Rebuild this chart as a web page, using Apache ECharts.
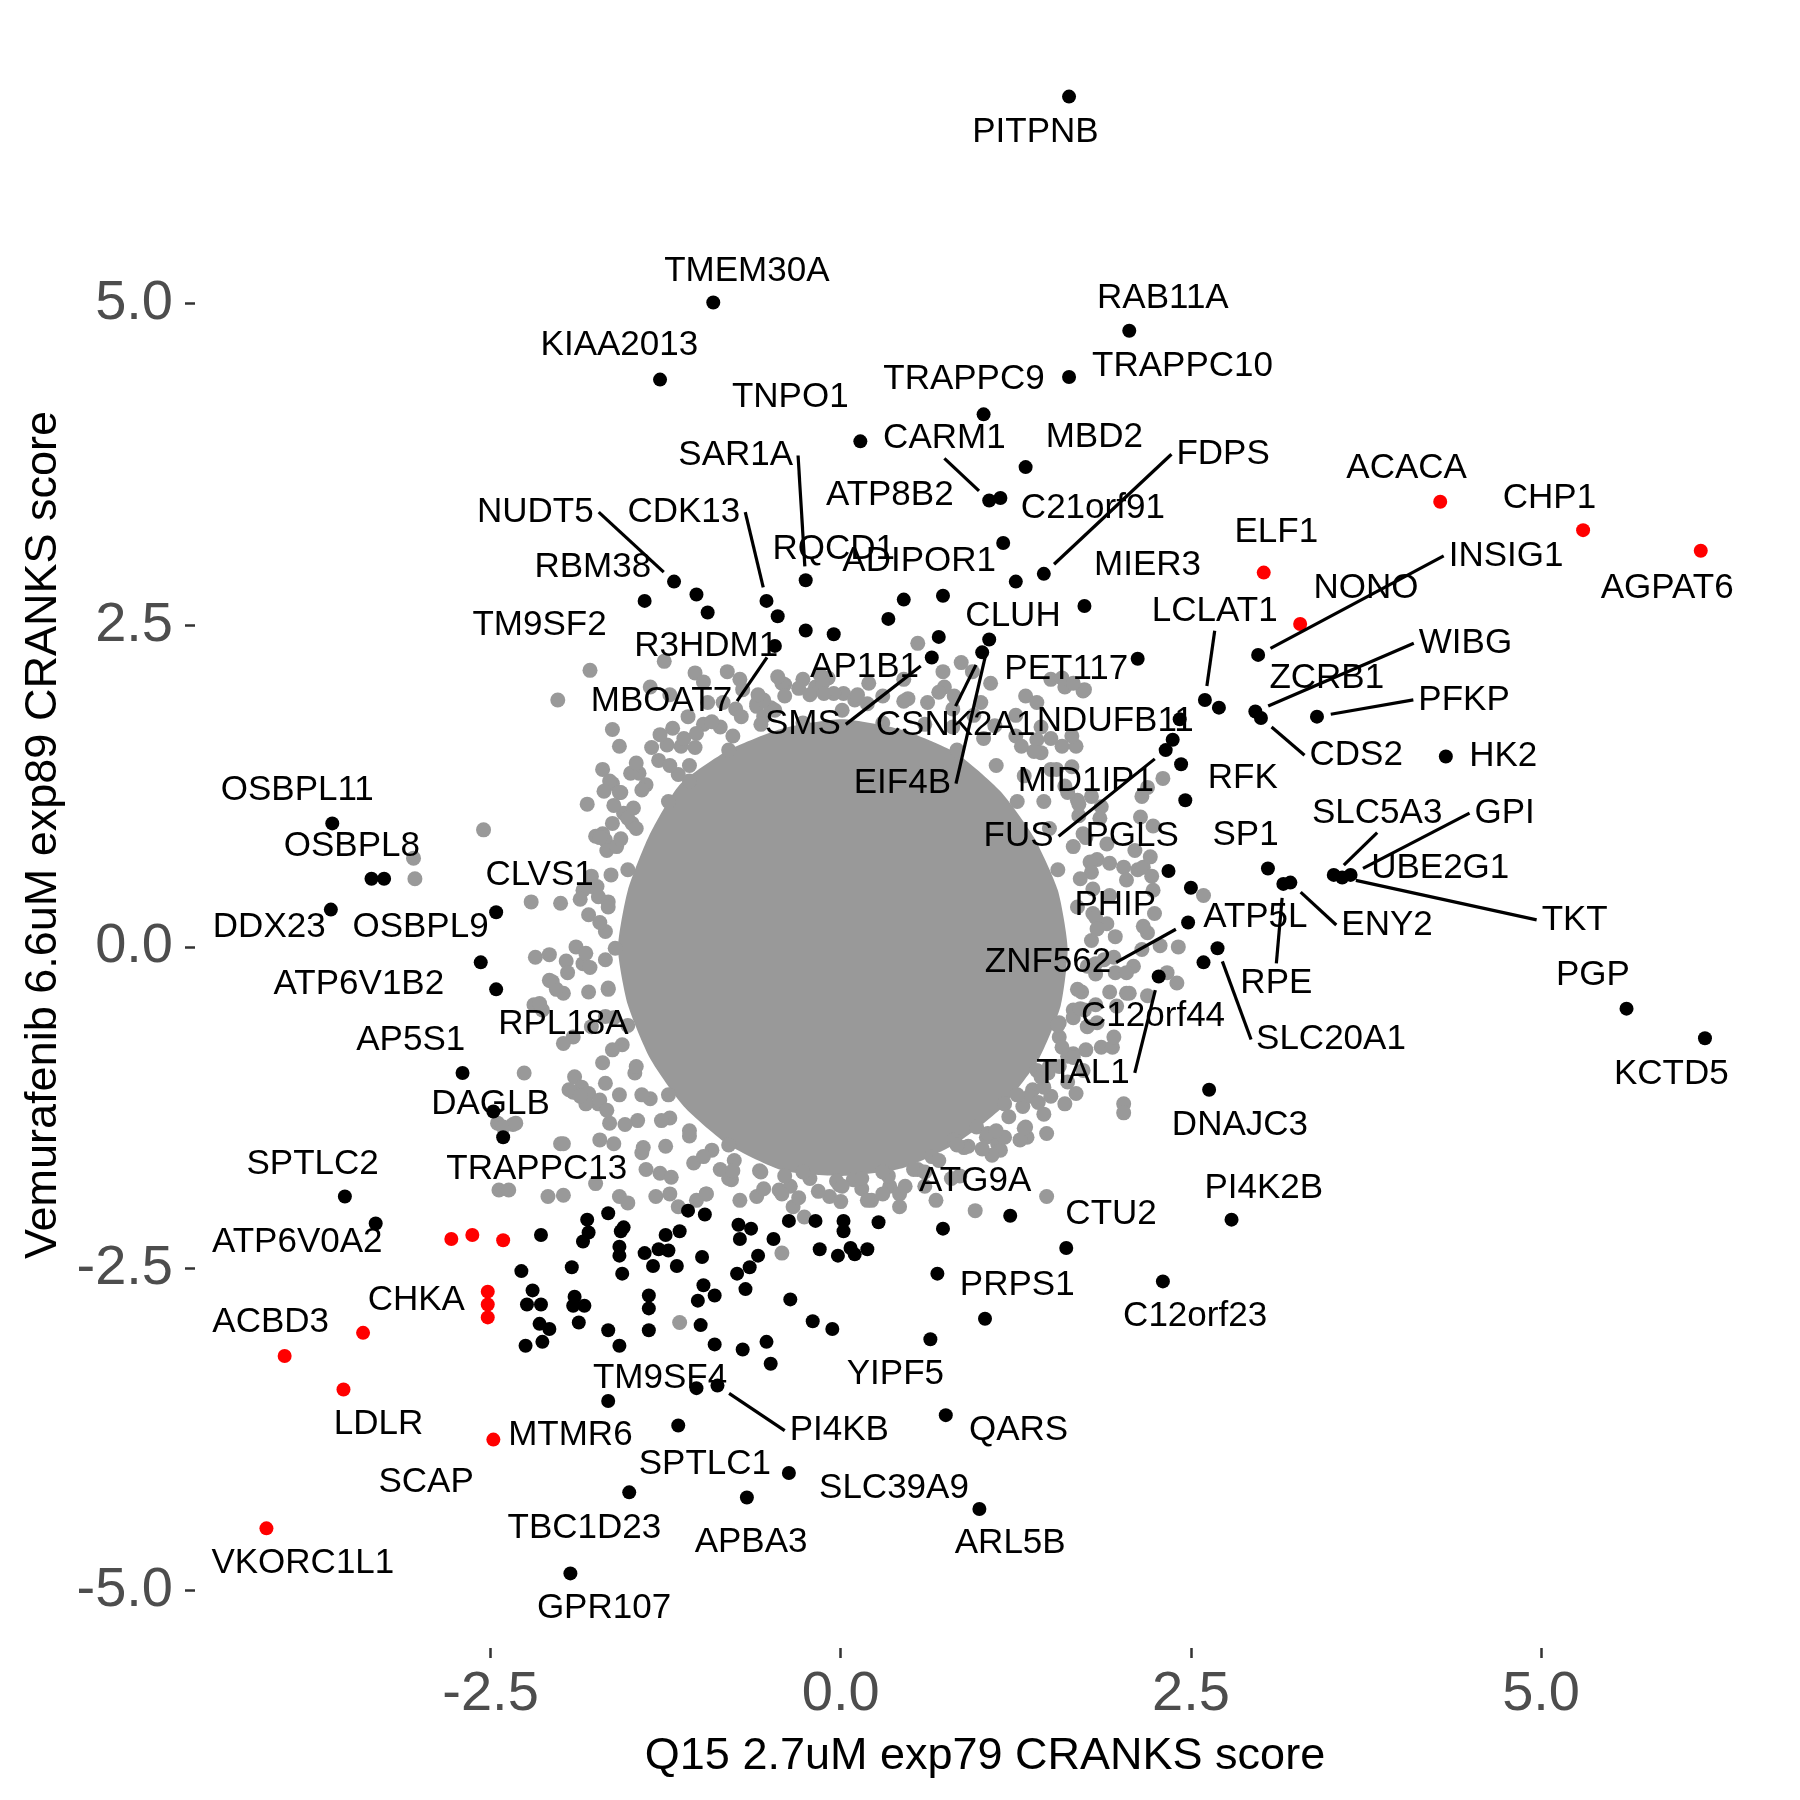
<!DOCTYPE html>
<html>
<head>
<meta charset="utf-8">
<script src="https://cdn.jsdelivr.net/npm/echarts@6/dist/echarts.min.js"></script>
<style>
html,body{margin:0;padding:0;background:#fff;}
#chart{width:1800px;height:1800px;}
</style>
</head>
<body>
<div id="chart"></div>
<script>
// ---------------- DATA ----------------
const xTitle = 'Q15 2.7uM exp79 CRANKS score';
const yTitle = 'Vemurafenib 6.6uM exp89 CRANKS score';
const xTicks = [-2.5, 0, 2.5, 5];
const yTicks = [-5, -2.5, 0, 2.5, 5];

// Outline of the part of the grey cloud where the points fully overlap
const coreOutline = [
  [1.62,-0.01],[1.55,0.44],[1.38,0.85],[1.14,1.21],[0.82,1.51],[0.43,1.69],[0.01,1.77],[-0.41,1.70],
  [-0.80,1.53],[-1.15,1.26],[-1.37,0.86],[-1.52,0.44],[-1.59,-0.01],[-1.52,-0.45],[-1.36,-0.87],[-1.12,-1.24],
  [-0.80,-1.54],[-0.41,-1.74],[0.01,-1.78],[0.44,-1.72],[0.82,-1.53],[1.15,-1.25],[1.41,-0.88],[1.57,-0.46]
];

// Individual grey points around the cloud
const greyPoints = [
  [-1.79,2.15],[-2.02,1.92],[-1.63,1.69],[-1.24,1.57],[-1.14,1.56],[-1.04,2.13],[-0.98,2.06],[-0.81,2.14],
  [-0.72,2.08],[-1.26,2.22],[-0.60,1.87],[-0.55,1.79],[-0.40,2.04],[-0.86,1.71],[-0.77,1.64],[-0.98,1.73],
  [-1.03,1.66],[-1.44,1.35],[-1.39,1.26],[-1.63,1.27],[-1.57,1.20],[-1.16,1.34],[-1.08,1.29],[-2.55,0.91],
  [-1.70,0.88],[-1.68,0.83],[-2.21,0.35],[-2.00,0.34],[-1.78,0.47],[-1.73,0.39],[-1.55,1.04],[-1.49,0.96],
  [-0.27,2.08],[-0.18,2.02],[-0.09,2.09],[0.02,1.97],[0.10,1.92],[0.55,2.36],[0.86,2.21],[0.94,2.14],
  [1.07,2.05],[0.74,2.02],[0.81,1.95],[1.32,1.95],[1.40,1.90],[1.50,2.08],[1.60,2.02],[1.74,2.00],
  [1.43,1.71],[1.58,1.56],[1.68,1.56],[1.43,1.51],[1.79,1.17],[1.86,1.09],[2.15,1.17],[1.60,1.25],
  [1.69,1.14],[1.73,0.88],[1.83,0.68],[1.92,0.65],[2.02,0.62],[2.12,0.60],[2.24,0.26],[2.19,0.11],
  [1.96,0.08],[2.15,-0.02],[-2.18,-0.08],[-2.08,-0.06],[-1.96,-0.11],[-1.95,-0.20],[-2.06,-0.27],[-1.98,-0.36],
  [-2.19,-0.45],[-2.13,-0.49],[-2.26,-0.98],[-1.90,-1.01],[-1.85,-1.09],[-1.91,-1.13],[-1.80,-1.14],[-1.73,-1.22],
  [-1.82,-1.22],[-1.68,-1.06],[-2.45,-1.37],[-2.34,-1.38],[-2.00,-1.53],[-1.65,-1.37],[-1.72,-1.50],[-1.62,-1.53],
  [-2.44,-1.89],[-2.37,-1.89],[-2.09,-1.94],[-1.98,-1.93],[-1.75,-1.84],[-1.58,-1.94],[-1.52,-1.99],[-1.42,-1.60],
  [-1.39,-1.73],[-1.29,-1.76],[-1.32,-1.94],[-1.22,-1.92],[-1.16,-2.02],[-1.03,-1.97],[-0.96,-1.92],[-0.86,-1.73],
  [-0.78,-1.81],[-0.72,-1.97],[-0.60,-1.94],[-0.44,-1.89],[-0.36,-1.86],[-0.34,-2.02],[-0.26,-2.10],[-0.08,-1.94],
  [-0.01,-1.85],[0.09,-1.81],[0.15,-1.88],[0.22,-1.97],[0.35,-1.86],[0.42,-1.92],[0.42,-2.02],[0.55,-1.73],
  [0.65,-1.63],[0.68,-1.97],[0.81,-1.50],[0.91,-1.55],[0.97,-1.40],[1.04,-1.48],[0.96,-2.05],[1.12,-1.53],
  [1.14,-1.58],[1.32,-1.40],[1.33,-1.48],[1.47,-1.45],[1.47,-1.94],[1.17,-1.22],[1.30,-1.24],[1.37,-1.11],
  [1.50,-1.16],[1.60,-1.22],[1.68,-1.14],[2.02,-1.22],[2.02,-1.29],[1.40,-0.96],[1.43,-1.01],[1.56,-0.59],
  [1.56,-0.70],[1.66,-0.49],[1.76,-0.62],[1.86,-0.78],[1.94,-0.78],[1.92,-0.35],[2.04,-0.36],[1.96,-0.20],
  [2.09,-0.15],[-3.05,0.69],[-3.04,0.53],[-1.15,-2.92],[-0.42,-2.38],[1.58,2.09],[1.73,1.99],[2.14,1.01],
  [2.23,0.94],[2.10,0.75],[2.16,0.62],[2.04,0.52],[2.23,0.44],[2.16,0.16],[2.41,0.00],[2.33,-0.20],
  [2.40,-0.28],[1.95,-0.08],[2.04,-0.20],[2.06,-0.36],[1.97,-0.46],[1.83,-0.59],[1.95,-0.70],[1.66,-0.83],
  [1.56,-0.93],[1.73,-0.96],[2.19,1.24],[2.30,1.31],[2.21,0.70],[2.22,0.55],[2.59,0.40],[2.28,0.01],
  [2.19,-0.38],[-1.89,0.00],[-1.84,-0.13],[-2.15,-0.44],[-2.03,-0.33],[-2.08,-0.26],[-1.91,-0.70],[-1.98,-0.75],
  [-1.94,-1.11],[-1.86,-1.16],[-1.98,-1.53],[-2.41,-1.40],[-2.32,-1.37],[-1.72,-1.19],[-1.67,-1.27],[-1.70,1.38],
  [-1.65,1.29],[-1.58,1.20],[-1.63,0.96],[-1.75,0.86],[-1.67,0.75],[-1.84,0.44],[-1.86,0.37],[0.73,2.14],
  [1.66,2.05],[-0.42,2.05],[-0.30,2.01],[-0.60,1.89],[-0.50,1.86],[1.65,1.64],[1.40,1.61],[-1.36,2.02],
  [-1.22,1.96],[-0.13,2.05],
  [-1.30,1.45],[-1.12,1.62],[-0.92,1.75],[-0.75,1.85],[-0.55,1.92],[-0.40,1.95],[-0.22,1.96],[-0.05,1.97],
  [0.12,1.96],[0.30,1.95],[0.48,1.93],[0.62,1.90],[0.80,1.85],[0.95,1.80],[1.10,1.72],[1.25,1.64],
  [1.38,1.52],[1.50,1.38],[1.62,1.20],[1.70,1.02],[1.75,0.85],[1.78,0.66],[1.80,0.45],[1.80,0.26],
  [1.79,0.05],[1.76,-0.15],[1.72,-0.35],[1.66,-0.55],[1.58,-0.78],[1.48,-0.98],[1.35,-1.16],[1.20,-1.32],
  [1.05,-1.45],[0.88,-1.56],[0.70,-1.66],[0.52,-1.73],[0.34,-1.78],[0.15,-1.80],[-0.03,-1.82],[-0.22,-1.80],
  [-0.40,-1.78],[-0.58,-1.74],[-0.76,-1.66],[-0.92,-1.58],[-1.08,-1.47],[-1.22,-1.33],[-1.36,-1.18],[-1.47,-0.98],
  [-1.56,-0.76],[-1.62,-0.55],[-1.66,-0.32],[-1.68,-0.10],[-1.68,0.12],[-1.66,0.35],[-1.64,0.56],[-1.60,0.78],
  [-1.52,1.00],[-1.42,1.22],
  [-1.20,1.70],[-0.95,1.90],[-0.70,2.00],[-0.45,2.10],[-0.15,2.12],[0.20,2.05],[0.45,2.08],[0.70,1.98],
  [1.00,1.90],[1.25,1.80],[1.50,1.62],[1.65,1.40],[1.85,1.00],[1.90,0.80],[1.92,0.40],[1.90,0.18],
  [1.88,-0.10],[1.82,-0.45],[1.75,-0.80],[1.62,-1.05],[1.45,-1.30],[1.28,-1.50],[1.08,-1.62],[0.85,-1.78],
  [0.60,-1.86],[0.30,-1.92],[0.00,-1.98],[-0.30,-1.95],[-0.55,-1.88],[-0.80,-1.80],[-1.05,-1.68],[-1.25,-1.55],
  [-1.45,-1.35],[-1.58,-1.15],[-1.70,-0.90],[-1.78,-0.62],[-1.80,-0.35],[-1.82,-0.05],[-1.80,0.25],[-1.78,0.55],
  [-1.72,0.85],[-1.62,1.10],[-1.50,1.35],[-1.35,1.55],
  [-1.58,1.56],[-1.46,1.43],[-1.69,1.21],[-1.81,1.11],[-1.29,1.65],[-1.09,1.79],[-0.84,1.90],[-0.59,1.96],
  [-1.54,-1.38],[-1.41,-1.56],[-1.21,-1.79],[-0.96,-1.92],[1.79,0.58],[1.82,0.23],[1.82,-0.13],[1.74,-0.49],
  [1.62,-0.85],[1.41,-1.21],[1.17,-1.48],[1.70,1.11],[1.54,1.38],[1.29,1.56],
  [1.69,0.31],[1.55,0.60],[1.49,0.92],[1.26,1.13],[1.11,1.41],[0.83,1.53],[0.60,1.73],
  [0.30,1.74],[0.01,1.84],[-0.27,1.74],[-0.57,1.73],[-0.80,1.53],[-1.08,1.41],[-1.23,1.13],[-1.46,0.92],
  [-1.52,0.60],[-1.66,0.31],[-1.61,-0.01],[-1.66,-0.33],[-1.52,-0.61],[-1.46,-0.93],[-1.23,-1.15],[-1.08,-1.43],
  [-0.80,-1.54],[-0.57,-1.75],[-0.27,-1.75],[0.01,-1.86],[0.30,-1.75],[0.60,-1.75],[0.83,-1.54],[1.11,-1.43],
  [1.26,-1.15],[1.49,-0.93],[1.55,-0.61],[1.69,-0.33],
  [1.83,0.14],[1.71,0.53],[1.66,0.78],[1.45,1.13],[1.31,1.33],[1.02,1.62],[0.80,1.71],[0.45,1.91],
  [0.19,1.89],[-0.12,1.97],[-0.47,1.84],[-0.71,1.79],[-1.04,1.55],[-1.22,1.41],[-1.48,1.08],[-1.57,0.84],
  [-1.74,0.47],[-1.72,0.19],[-1.79,-0.16],[-1.68,-0.54],[-1.63,-0.80],[-1.42,-1.15],[-1.28,-1.35],[-0.98,-1.63],
  [-0.77,-1.74],[-0.42,-1.92],[-0.16,-1.90],[0.19,-1.97],[0.46,-1.86],[0.79,-1.80],[1.01,-1.57],[1.31,-1.41],
  [1.45,-1.09],[1.66,-0.86],[1.71,-0.48],[1.82,-0.21]
];

// Black (highlighted) points: [x, y, gene]
const blackPoints = [
  [1.63,6.61,'PITPNB'],[-0.91,5.01,'TMEM30A'],[-1.29,4.41,'KIAA2013'],[2.06,4.79,'RAB11A'],[1.63,4.43,'TRAPPC10'],
  [1.02,4.14,'TRAPPC9'],[0.14,3.93,'TNPO1'],[1.32,3.73,'MBD2'],[1.06,3.47,'CARM1'],[1.14,3.49,'C21orf91'],
  [1.16,3.14,'ADIPOR1'],[-0.25,2.85,'SAR1A'],[1.45,2.90,'FDPS'],[1.25,2.84,''],[0.73,2.73,''],[0.45,2.70,''],
  [1.74,2.65,'MIER3'],[-1.19,2.84,'NUDT5'],[-1.03,2.74,''],[-1.40,2.69,'RBM38'],[-0.95,2.60,''],[-0.53,2.69,'CDK13'],
  [-0.45,2.57,''],[-0.25,2.46,''],[-0.05,2.43,''],[-0.47,2.34,'MBOAT7'],[0.34,2.55,''],[0.70,2.41,''],
  [0.65,2.25,'SMS'],[1.06,2.39,'EIF4B'],[1.01,2.29,'CSNK2A1'],[2.12,2.24,'PET117'],[2.98,2.27,'INSIG1'],
  [2.60,1.92,'LCLAT1'],[2.70,1.86,''],[2.96,1.83,'WIBG'],[3.00,1.78,'CDS2'],[3.40,1.79,'PFKP'],[4.32,1.48,'HK2'],
  [2.42,1.77,'NDUFB11'],[2.37,1.61,''],[2.32,1.53,'FUS'],[2.43,1.42,''],[2.46,1.14,'RFK'],[3.05,0.61,'SP1'],
  [3.16,0.49,'RPE'],[3.21,0.50,'ENY2'],[3.52,0.56,'SLC5A3'],[3.58,0.54,'TKT'],[3.64,0.56,'GPI'],[2.34,0.59,'PGLS'],
  [2.50,0.46,''],[2.48,0.19,'ZNF562'],[2.69,-0.01,'SLC20A1'],[2.59,-0.12,''],[2.27,-0.23,'TIAL1'],[5.61,-0.48,'PGP'],
  [6.17,-0.71,'KCTD5'],[2.63,-1.11,'DNAJC3'],[-3.63,0.96,'OSBPL11'],[-3.35,0.53,'OSBPL8'],[-3.26,0.53,''],
  [-3.64,0.29,'DDX23'],[-2.46,0.27,'CLVS1'],[-2.57,-0.12,''],[-2.46,-0.33,''],[-2.70,-0.98,'AP5S1'],
  [-2.48,-1.28,'DAGLB'],[-2.41,-1.48,''],[-3.54,-1.94,'SPTLC2'],[-3.32,-2.15,''],[-2.14,-2.24,''],
  [-2.28,-2.52,''],[-1.92,-2.49,''],[-1.81,-2.12,''],[-1.66,-2.07,''],[-1.55,-2.18,''],[-1.57,-2.21,''],
  [-1.80,-2.22,''],[-1.84,-2.29,''],[-1.58,-2.33,''],[-1.58,-2.40,''],[-1.56,-2.54,''],[-1.40,-2.38,''],
  [-1.30,-2.35,''],[-1.23,-2.36,''],[-1.25,-2.24,''],[-1.15,-2.21,''],[-1.34,-2.48,''],[-1.17,-2.48,''],
  [-0.99,-2.41,''],[-0.73,-2.16,''],[-0.64,-2.19,''],[-0.72,-2.27,''],[-0.48,-2.27,''],[-0.59,-2.40,''],
  [-0.65,-2.49,''],[-0.74,-2.54,''],[-1.09,-2.05,''],[-0.97,-2.08,''],[-0.37,-2.13,''],[-0.18,-2.13,''],
  [-0.15,-2.35,''],[-0.02,-2.40,''],[0.07,-2.34,''],[0.10,-2.39,''],[0.19,-2.35,''],[0.02,-2.13,''],
  [0.02,-2.21,''],[0.27,-2.14,''],[0.73,-2.19,''],[1.21,-2.09,'ATG9A'],[1.61,-2.34,'CTU2'],[2.79,-2.12,'PI4K2B'],
  [0.69,-2.54,'PRPS1'],[2.30,-2.60,'C12orf23'],[1.03,-2.89,''],[0.64,-3.05,'YIPF5'],[0.75,-3.64,'QARS'],
  [0.99,-4.37,'ARL5B'],[-0.37,-4.09,'SLC39A9'],[-0.67,-4.28,'APBA3'],[-1.51,-4.24,'TBC1D23'],[-1.93,-4.87,'GPR107'],
  [-1.16,-3.72,'SPTLC1'],[-1.03,-3.43,'TM9SF4'],[-0.88,-3.41,'PI4KB'],[-1.66,-3.53,''],[-2.20,-2.67,''],
  [-2.24,-2.78,''],[-2.14,-2.78,''],[-1.90,-2.72,''],[-1.83,-2.79,''],[-1.91,-2.79,''],[-1.87,-2.92,''],
  [-2.15,-2.93,''],[-2.08,-2.97,''],[-2.25,-3.10,''],[-2.13,-3.07,''],[-1.66,-2.98,''],[-1.58,-3.10,''],
  [-1.37,-2.71,''],[-1.37,-2.81,''],[-1.37,-2.98,''],[-0.98,-2.63,''],[-0.90,-2.71,''],[-1.02,-2.75,''],
  [-0.68,-2.66,''],[-1.00,-2.94,''],[-0.90,-3.09,''],[-0.70,-3.13,''],[-0.53,-3.07,''],[-0.50,-3.24,''],
  [-0.36,-2.74,''],[-0.20,-2.91,''],[-0.06,-2.97,'']
];

// Red points: [x, y, gene]
const redPoints = [
  [4.28,3.46,'ACACA'],[5.30,3.24,'CHP1'],[6.14,3.08,'AGPAT6'],[3.02,2.91,'ELF1'],[3.28,2.51,'NONO'],
  [-2.78,-2.27,''],[-2.63,-2.24,''],[-2.41,-2.28,''],[-2.52,-2.68,'CHKA'],[-2.52,-2.78,''],[-2.52,-2.88,''],
  [-3.41,-3.00,''],[-3.97,-3.18,'ACBD3'],[-3.55,-3.44,'LDLR'],[-2.48,-3.83,'MTMR6'],[-4.10,-4.52,'VKORC1L1']
];

// Gene labels: [text, label x, label y, draws a connector to its point]
const geneLabels = [
  ['PITPNB',1.39,6.33,0],['TMEM30A',-0.67,5.25,0],['KIAA2013',-1.58,4.68,0],['RAB11A',2.30,5.04,0],
  ['TRAPPC10',2.44,4.51,0],['TRAPPC9',0.88,4.41,0],['TNPO1',-0.36,4.27,0],['CARM1',0.74,3.95,1],
  ['MBD2',1.81,3.96,0],['FDPS',2.73,3.83,1],['SAR1A',-0.75,3.82,1],['ATP8B2',0.35,3.51,0],
  ['C21orf91',1.80,3.41,0],['NUDT5',-2.18,3.38,1],['CDK13',-1.12,3.38,1],['ELF1',3.11,3.22,0],
  ['ACACA',4.04,3.72,0],['CHP1',5.06,3.49,0],['AGPAT6',5.90,2.79,0],['ADIPOR1',0.56,3.00,0],
  ['RQCD1',-0.05,3.09,0],['MIER3',2.19,2.97,0],['INSIG1',4.75,3.04,1],['LCLAT1',2.67,2.61,1],
  ['RBM38',-1.77,2.95,0],['NONO',3.75,2.79,0],['TM9SF2',-2.15,2.50,0],['CLUH',1.23,2.57,0],
  ['R3HDM1',-0.96,2.34,0],['WIBG',4.46,2.36,1],['ZCRB1',3.47,2.09,0],['AP1B1',0.17,2.17,0],
  ['PET117',1.61,2.16,0],['MBOAT7',-1.28,1.91,1],['PFKP',4.45,1.92,1],['SMS',-0.27,1.73,1],
  ['CSNK2A1',0.82,1.72,1],['NDUFB11',1.96,1.75,0],['CDS2',3.68,1.49,1],['HK2',4.73,1.48,0],
  ['RFK',2.87,1.31,0],['EIF4B',0.44,1.27,1],['MID1IP1',1.75,1.29,0],['FUS',1.27,0.86,1],
  ['SLC5A3',3.83,1.04,1],['GPI',4.74,1.04,1],['PGLS',2.08,0.86,0],['SP1',2.89,0.87,0],
  ['UBE2G1',4.28,0.61,0],['OSBPL11',-3.88,1.22,0],['OSBPL8',-3.49,0.78,0],['DDX23',-4.08,0.15,0],
  ['OSBPL9',-3.00,0.15,0],['CLVS1',-2.15,0.56,0],['ATP6V1B2',-3.44,-0.29,0],['RPL18A',-1.98,-0.60,0],
  ['AP5S1',-3.07,-0.73,0],['DAGLB',-2.50,-1.22,0],['TRAPPC13',-2.17,-1.73,0],['SPTLC2',-3.77,-1.69,0],
  ['ATP6V0A2',-3.88,-2.30,0],['CHKA',-3.03,-2.75,0],['ACBD3',-4.07,-2.92,0],['LDLR',-3.30,-3.71,0],
  ['SCAP',-2.96,-4.16,0],['MTMR6',-1.93,-3.80,0],['VKORC1L1',-3.84,-4.79,0],['TBC1D23',-1.83,-4.52,0],
  ['GPR107',-1.69,-5.14,0],['APBA3',-0.64,-4.63,0],['SPTLC1',-0.97,-4.02,0],['TM9SF4',-1.29,-3.35,0],
  ['PI4KB',-0.01,-3.76,1],['SLC39A9',0.38,-4.21,0],['ARL5B',1.21,-4.64,0],['QARS',1.27,-3.76,0],
  ['YIPF5',0.39,-3.32,0],['PRPS1',1.26,-2.63,0],['C12orf23',2.53,-2.87,0],['CTU2',1.93,-2.08,0],
  ['PI4K2B',3.02,-1.88,0],['ATG9A',0.96,-1.82,0],['DNAJC3',2.85,-1.39,0],['KCTD5',5.93,-0.99,0],
  ['PGP',5.37,-0.22,0],['TKT',5.24,0.21,1],['ENY2',3.90,0.17,1],['ATP5L',2.96,0.23,0],
  ['RPE',3.11,-0.28,1],['PHIP',1.96,0.32,0],['ZNF562',1.48,-0.12,1],['SLC20A1',3.50,-0.72,1],
  ['C12orf44',2.23,-0.54,0],['TIAL1',1.73,-0.98,1]
];

// ---------------- CHART ----------------
const pointByName = {};
blackPoints.concat(redPoints).forEach(p => { if (p[2]) pointByName[p[2]] = [p[0], p[1]]; });

const LABEL_SIZE = 35;
const LABEL_FAMILY = '"Liberation Sans", Arial, sans-serif';
const measureCtx = document.createElement('canvas').getContext('2d');
measureCtx.font = LABEL_SIZE + 'px ' + LABEL_FAMILY;

function renderCore(params, api) {
  return {
    type: 'polygon',
    shape: { points: coreOutline.map(p => api.coord(p)), smooth: 0.2 },
    style: { fill: '#999999' }
  };
}

// connector like ggrepel: leaves the label box from the side facing the point
function renderLabel(params, api) {
  const L = geneLabels[params.dataIndex];
  const c = api.coord([L[1], L[2]]);
  const children = [];
  if (L[3] && pointByName[L[0]]) {
    const p = api.coord(pointByName[L[0]]);
    const w = measureCtx.measureText(L[0]).width;
    const x1 = c[0] - w / 2 - 5, x2 = c[0] + w / 2 + 5;
    const y1 = c[1] - LABEL_SIZE * 0.5 - 2, y2 = c[1] + LABEL_SIZE * 0.5 + 2;
    let sx, sy;
    if (p[0] < x1) { sx = x1; sy = c[1]; }
    else if (p[0] > x2) { sx = x2; sy = c[1]; }
    else if (p[1] < y1) { sx = c[0]; sy = y1; }
    else { sx = c[0]; sy = y2; }
    const dx = p[0] - sx, dy = p[1] - sy;
    const len = Math.hypot(dx, dy);
    const pad = 14;
    if (len > pad + 6) {
      const e = 1 - pad / len;
      children.push({
        type: 'line',
        shape: { x1: sx, y1: sy, x2: sx + dx * e, y2: sy + dy * e },
        style: { stroke: '#000', lineWidth: 3.2 }
      });
    }
  }
  children.push({
    type: 'text', x: c[0], y: c[1],
    style: { text: L[0], fontSize: LABEL_SIZE, fontFamily: LABEL_FAMILY, fill: '#000', align: 'center', verticalAlign: 'middle' }
  });
  return { type: 'group', children };
}

const chart = echarts.init(document.getElementById('chart'), null, { renderer: 'canvas' });
const fmt = v => v.toFixed(1);
chart.setOption({
  animation: false,
  backgroundColor: '#ffffff',
  grid: { left: 195, top: 22, width: 1580, height: 1626, containLabel: false },
  xAxis: {
    type: 'value', min: -4.61, max: 6.67, position: 'bottom',
    name: xTitle, nameLocation: 'middle', nameGap: 86,
    nameTextStyle: { fontSize: 45, color: '#000', fontFamily: LABEL_FAMILY },
    axisLine: { show: false, onZero: false }, splitLine: { show: false },
    axisTick: { show: true, customValues: xTicks, length: 10, lineStyle: { color: '#333333', width: 2.5 } },
    axisLabel: { customValues: xTicks, formatter: fmt, fontSize: 56, color: '#4D4D4D', fontFamily: LABEL_FAMILY, margin: 19 }
  },
  yAxis: {
    type: 'value', min: -5.45, max: 7.19, position: 'left',
    name: yTitle, nameLocation: 'middle', nameGap: 128, nameRotate: 90,
    nameTextStyle: { fontSize: 45, color: '#000', fontFamily: LABEL_FAMILY },
    axisLine: { show: false, onZero: false }, splitLine: { show: false },
    axisTick: { show: true, customValues: yTicks, length: 10, lineStyle: { color: '#333333', width: 2.5 } },
    axisLabel: { customValues: yTicks, formatter: fmt, fontSize: 56, color: '#4D4D4D', fontFamily: LABEL_FAMILY, margin: 22 }
  },
  series: [
    { type: 'custom', renderItem: renderCore, data: [[0, 0]], silent: true, z: 1 },
    { type: 'scatter', data: greyPoints, symbolSize: 15, itemStyle: { color: '#999999', opacity: 1 }, z: 2, silent: true },
    { type: 'scatter', data: blackPoints.map(p => [p[0], p[1]]), symbolSize: 14, itemStyle: { color: '#000000', opacity: 1 }, z: 3, silent: true },
    { type: 'scatter', data: redPoints.map(p => [p[0], p[1]]), symbolSize: 14, itemStyle: { color: '#FF0000', opacity: 1 }, z: 4, silent: true },
    { type: 'custom', renderItem: renderLabel, data: geneLabels.map(l => [l[1], l[2]]), z: 5, silent: true, clip: false }
  ]
});
</script>
</body>
</html>
